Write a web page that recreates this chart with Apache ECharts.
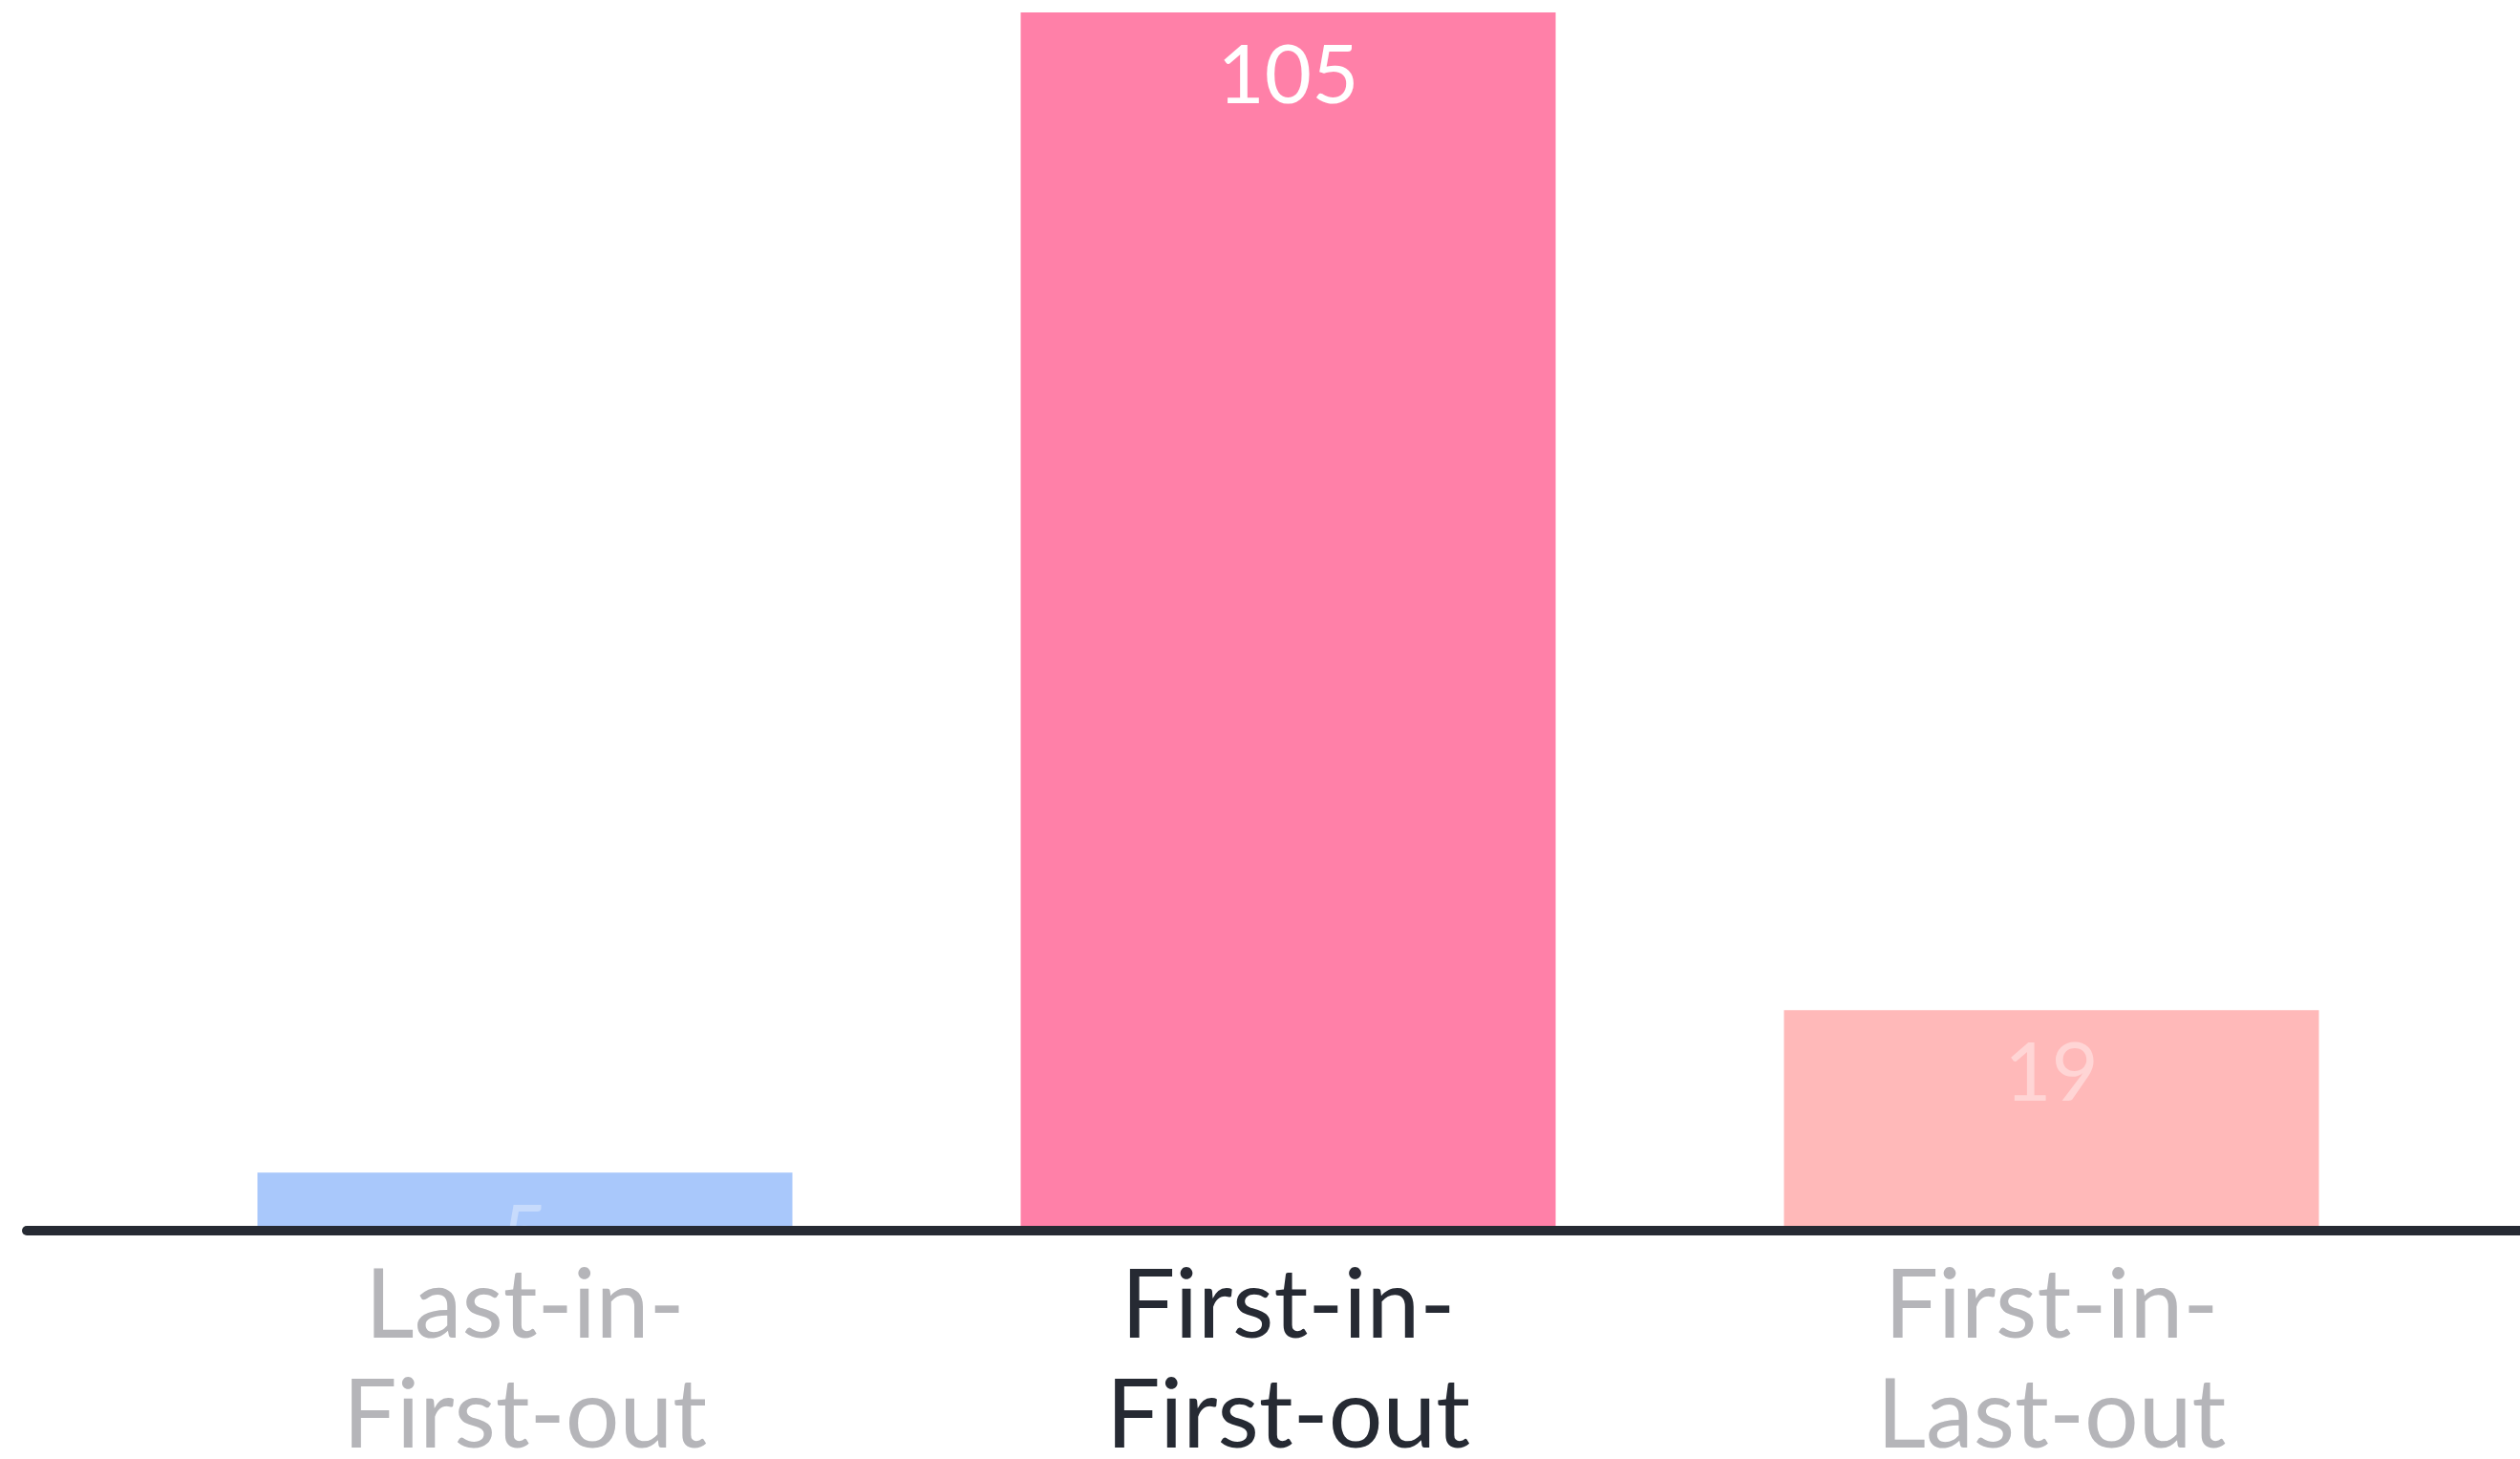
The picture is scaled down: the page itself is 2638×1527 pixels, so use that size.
<!DOCTYPE html>
<html>
<head>
<meta charset="utf-8">
<script src="https://cdn.jsdelivr.net/npm/echarts@6/dist/echarts.min.js"></script>
<style>
html,body{margin:0;padding:0;background:#ffffff;}
#chart{width:2638px;height:1527px;}
</style>
</head>
<body>
<div id="chart"></div>
<script>
// Data
const categories = ['Last-in-\nFirst-out', 'First-in-\nFirst-out', 'First-in-\nLast-out'];
const values = [5, 105, 19];

// Styles
const barColors = ['#a9c8fb', '#ff80a8', '#ffb9b9'];
const valueLabelColors = ['rgba(255,255,255,0.35)', '#ffffff', 'rgba(255,255,255,0.4)'];
const catLabelColors = ['#b5b5b9', '#262a33', '#b5b5b9'];
const FONT = 'Lato, "Noto Sans", sans-serif';

const chart = echarts.init(document.getElementById('chart'), null, {renderer: 'canvas'});

const seriesData = values.map((v, i) => ({
  value: v,
  itemStyle: { color: barColors[i] },
  label: { color: valueLabelColors[i] }
}));

chart.setOption({
  backgroundColor: '#ffffff',
  animation: false,
  grid: [
    { left: 150, right: 91, top: 13, bottom: 239, containLabel: false, outerBoundsMode: 'none' },
    { left: 28, right: 0, top: 13, bottom: 239, containLabel: false, outerBoundsMode: 'none' }
  ],
  xAxis: [
    {
      type: 'category',
      gridIndex: 0,
      data: categories,
      axisLine: { show: false },
      axisTick: { show: false },
      axisLabel: {
        fontFamily: FONT,
        fontSize: 100,
        lineHeight: 115,
        margin: 22,
        interval: 0,
        color: function (value, index) { return catLabelColors[index]; }
      }
    },
    {
      type: 'value',
      gridIndex: 1,
      min: 0, max: 1,
      z: 10,
      axisLine: { show: true, lineStyle: { color: '#262a33', width: 10 } },
      axisTick: { show: false },
      axisLabel: { show: false },
      splitLine: { show: false }
    }
  ],
  yAxis: [
    { type: 'value', gridIndex: 0, min: 0, max: 105, show: false, splitLine: { show: false } },
    { type: 'value', gridIndex: 1, min: 0, max: 1, show: false, splitLine: { show: false } }
  ],
  series: [
    {
      type: 'bar',
      xAxisIndex: 0,
      yAxisIndex: 0,
      barWidth: 560,
      z: 2,
      data: seriesData,
      label: {
        show: true,
        position: 'insideTop',
        distance: 25,
        fontFamily: FONT,
        fontSize: 85
      }
    }
  ]
});
</script>
</body>
</html>
